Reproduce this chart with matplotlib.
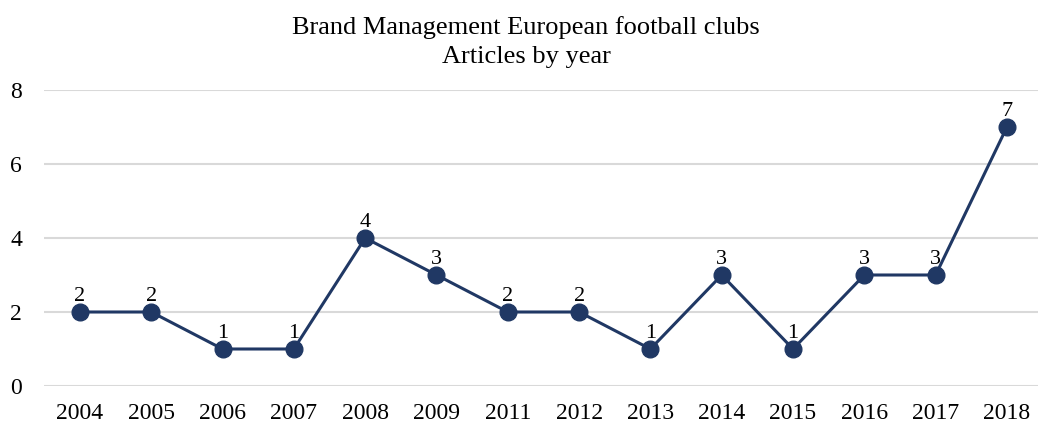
import matplotlib.pyplot as plt

years = ["2004", "2005", "2006", "2007", "2008", "2009", "2011",
         "2012", "2013", "2014", "2015", "2016", "2017", "2018"]
articles = [2, 2, 1, 1, 4, 3, 2, 2, 1, 3, 1, 3, 3, 7]

plt.rcParams["font.family"] = ["Liberation Serif", "DejaVu Serif"]

navy = "#203864"

fig = plt.figure(figsize=(10.38, 4.25), dpi=100)
ax = fig.add_axes([44.3 / 1038, 39 / 425, 998.3 / 1038, 296 / 425])

x = list(range(len(years)))
ax.plot(x, articles, color=navy, linewidth=2.2, marker="o", markersize=12, zorder=3)

# value labels above each point
for xi, v in zip(x, articles):
    ax.annotate(str(v), (xi, v), xytext=(0, 4.5), textcoords="offset points",
                ha="center", va="bottom", fontsize=16, color="black")

ax.set_xlim(-0.5, len(years) - 0.5)
ax.set_ylim(0, 8)
ax.set_yticks([0, 2, 4, 6, 8])
ax.set_xticks(x)
ax.set_xticklabels(years)
ax.grid(axis="y", color="#d9d9d9", linewidth=1.5)
ax.set_axisbelow(True)
for s in ax.spines.values():
    s.set_visible(False)
ax.tick_params(axis="both", length=0, labelsize=17)
ax.tick_params(axis="y", pad=16)
ax.tick_params(axis="x", pad=12)

fig.text(0.507, 0.962, "Brand Management European football clubs\nArticles by year",
         ha="center", va="top", fontsize=19, linespacing=1.4)

fig.savefig("out.png", dpi=100)
